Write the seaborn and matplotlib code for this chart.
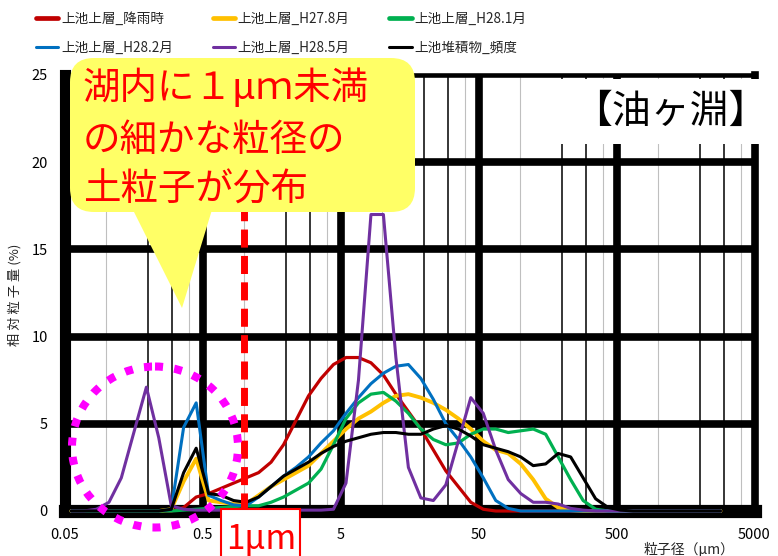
import matplotlib
matplotlib.use("Agg")
import matplotlib.pyplot as plt
import matplotlib.transforms as mtransforms
from matplotlib.patches import FancyBboxPatch, Polygon, Ellipse, Rectangle
import pandas as pd
import seaborn as sns

# Laser-diffraction size classes (µm)
diameter = [0.056, 0.069, 0.085, 0.105, 0.129, 0.159, 0.196, 0.241, 0.297, 0.365,
            0.450, 0.554, 0.682, 0.840, 1.035, 1.275, 1.570, 1.933, 2.381, 2.932,
            3.612, 4.448, 5.479, 6.747, 8.310, 10.23, 12.60, 15.52, 19.11, 23.54,
            28.99, 35.70, 43.97, 54.15, 66.69, 82.13, 101.2, 124.6, 153.4, 189.0,
            232.7, 286.6, 353.0, 434.7, 535.3, 659.2, 811.9, 1000, 1232, 1517,
            1868, 2301, 2834]

# Relative amount (%) per class
rain = [0, 0, 0, 0, 0, 0, 0, 0,
        0.0, 0.2, 0.8, 1.0, 1.3, 1.6, 1.9, 2.2, 2.8, 3.8, 5.2, 6.6, 7.6, 8.4,
        8.8, 8.8, 8.5, 7.8, 6.7, 5.7, 4.7, 3.5, 2.3, 1.4, 0.5, 0.1, 0, 0,
        0, 0, 0, 0, 0, 0, 0, 0, 0, 0, 0, 0, 0, 0, 0, 0, 0]
h27_aug = [0, 0, 0, 0, 0, 0, 0, 0,
           0.1, 1.7, 3.0, 0.6, 0.5, 0.4, 0.4, 0.9, 1.4, 1.8, 2.2, 2.6, 3.3, 4.0,
           4.7, 5.3, 5.7, 6.2, 6.6, 6.7, 6.5, 6.2, 5.8, 5.3, 4.7, 4.0, 3.5, 3.3,
           2.7, 1.8, 0.7, 0.2, 0.05, 0, 0, 0, 0, 0, 0, 0, 0, 0, 0, 0, 0]
h28_jan = [0, 0, 0, 0, 0, 0, 0, 0,
           0.0, 0.05, 0.1, 0.15, 0.2, 0.25, 0.3, 0.3, 0.5, 0.8, 1.2, 1.6, 2.4, 3.8,
           5.3, 6.2, 6.7, 6.8, 6.3, 5.6, 4.7, 4.1, 3.8, 3.9, 4.4, 4.7, 4.7, 4.5,
           4.6, 4.7, 4.4, 3.1, 1.8, 0.6, 0.1, 0, 0, 0, 0, 0, 0, 0, 0, 0, 0]
h28_feb = [0, 0, 0, 0, 0, 0, 0, 0,
           0.1, 4.8, 6.2, 0.9, 0.6, 0.35, 0.3, 0.8, 1.4, 2.0, 2.5, 3.1, 3.9, 4.6,
           5.6, 6.5, 7.3, 7.9, 8.3, 8.4, 7.6, 6.4, 5.0, 4.1, 3.1, 1.9, 0.6, 0.15,
           0, 0, 0, 0, 0, 0, 0, 0, 0, 0, 0, 0, 0, 0, 0, 0, 0]
h28_may = [0, 0, 0.1, 0.5, 1.9, 4.5, 7.1, 4.2,
           0.3, 0.1, 0.05, 0.05, 0.05, 0.05, 0.05, 0.05, 0.05, 0.05, 0.05, 0.05, 0.05, 0.1,
           1.6, 7.5, 17.0, 17.0, 8.8, 2.5, 0.75, 0.6, 1.5, 4.0, 6.5, 5.6, 3.5, 1.8,
           1.0, 0.5, 0.5, 0.4, 0.15, 0.05, 0, 0, 0, 0, 0, 0, 0, 0, 0, 0, 0]
sediment = [0, 0, 0, 0, 0, 0, 0, 0,
            0.1, 2.2, 3.6, 1.0, 0.9, 0.6, 0.5, 0.8, 1.4, 2.0, 2.4, 2.8, 3.3, 3.7,
            4.0, 4.2, 4.4, 4.5, 4.5, 4.4, 4.4, 4.7, 4.9, 4.7, 4.3, 3.8, 3.6, 3.4,
            3.1, 2.6, 2.7, 3.3, 3.1, 1.9, 0.7, 0.2, 0.05, 0, 0, 0, 0, 0, 0, 0, 0]

series_names = ["上池上層_降雨時", "上池上層_H27.8月", "上池上層_H28.1月",
                "上池上層_H28.2月", "上池上層_H28.5月", "上池堆積物_頻度"]
series_values = [rain, h27_aug, h28_jan, h28_feb, h28_may, sediment]
series_colors = ["#C00000", "#FFC000", "#00B050", "#0070C0", "#7030A0", "#000000"]
series_widths = [2.3, 2.8, 2.3, 2.2, 2.2, 2.2]
legend_widths = [3.4, 3.4, 3.4, 2.2, 2.2, 2.2]

x_ticks = [0.05, 0.5, 5, 50, 500, 5000]
x_tick_labels = ["0.05", "0.5", "5", "50", "500", "5000"]
y_ticks = [0, 5, 10, 15, 20, 25]

df = pd.concat(
    [pd.DataFrame({"粒子径": diameter, "相対粒子量": vals, "系列": name})
     for name, vals in zip(series_names, series_values)],
    ignore_index=True)

sns.set_theme(style="white")
plt.rcParams["font.family"] = ["Noto Sans CJK JP", "DejaVu Sans"]

W, H = 778, 556
fig = plt.figure(figsize=(W / 100, H / 100), dpi=100)
# pixel coordinates measured from the top-left corner of the canvas
pix = mtransforms.Affine2D().scale(1 / W, -1 / H).translate(0, 1) + fig.transFigure

left, right, top, bottom = 64.5, 754.5, 75, 511
ax = fig.add_axes([left / W, 1 - bottom / H, (right - left) / W, (bottom - top) / H])
ax.set_xscale("log")
ax.set_xlim(0.05, 5000)
ax.set_ylim(0, 25)

# grid: thin lines at 1-4 multiples, heavy lines at each 0.05 x 10^n
for base in [0.1, 1, 10, 100, 1000]:
    for m, col, w in [(1, "#BFBFBF", 0.8), (2, "black", 1.1), (3, "black", 1.1), (4, "#BFBFBF", 0.8)]:
        ax.axvline(base * m, color=col, lw=w, zorder=1)
for xv in x_ticks[1:-1]:
    ax.axvline(xv, color="black", lw=5.5, zorder=1.5)
for yv in y_ticks[1:-1]:
    ax.axhline(yv, color="black", lw=5.5, zorder=1.5)

for name, col, lw in zip(series_names, series_colors, series_widths):
    sns.lineplot(data=df[df["系列"] == name], x="粒子径", y="相対粒子量",
                 color=col, lw=lw, label=name, ax=ax, sort=False,
                 estimator=None, zorder=3, clip_on=False)

for side, w in [("left", 8), ("bottom", 9.5), ("right", 5.5), ("top", 3.3)]:
    ax.spines[side].set_visible(True)
    ax.spines[side].set_color("black")
    ax.spines[side].set_linewidth(w)

ax.set_xticks(x_ticks)
ax.set_xticklabels(x_tick_labels)
ax.xaxis.set_minor_locator(matplotlib.ticker.NullLocator())
ax.set_yticks(y_ticks)
ax.tick_params(axis="both", length=0, labelsize=10.5, colors="black")
ax.tick_params(axis="y", pad=12)
ax.tick_params(axis="x", pad=12)
ax.set_xlabel("")
ax.set_ylabel("")

# 1 µm boundary
ax.axvline(1, color="#FF0000", lw=5, linestyle=(0, (2.6, 1.2)), zorder=4)

# legend: row-wise order across three columns
handles, labels = ax.get_legend_handles_labels()
ax.get_legend().remove()
order = [0, 3, 1, 4, 2, 5]
leg = fig.legend([handles[i] for i in order], [labels[i] for i in order],
                 ncol=3, loc="upper left", bbox_to_anchor=(36 / W, 1 - 12 / H),
                 frameon=False, fontsize=9.8, handlelength=1.65, handletextpad=0.2,
                 columnspacing=2.9, labelspacing=1.1, borderpad=0, borderaxespad=0)
for i, h in zip(order, leg.legend_handles):
    h.set_linewidth(legend_widths[i])

fig.text(15, 295, "相 対 粒 子 量 (%)", transform=pix, rotation=90,
         ha="center", va="center", fontsize=9.5)
fig.text(689, 549, "粒子径（μm）", transform=pix, ha="center", va="center",
         fontsize=10)

# dotted ring around the sub-micron peaks
fig.patches.append(Ellipse((155, 447), 166, 161, transform=pix, fill=False,
                           edgecolor="#FF00FF", lw=5.8, linestyle=(0, (1, 1.4)),
                           zorder=5))

# callout balloon
yellow = "#FFFF66"
fig.patches.append(Polygon([(128, 200), (215, 200), (182, 308)], closed=True,
                           transform=pix, facecolor=yellow, edgecolor="none", zorder=6))
fig.patches.append(FancyBboxPatch((70, 58), 345, 154, transform=pix,
                                  boxstyle="round,pad=0,rounding_size=24",
                                  facecolor=yellow, edgecolor="none", zorder=6))
for ypos, line in zip([88, 140, 190], ["湖内に１μｍ未満", "の細かな粒径の", "土粒子が分布"]):
    fig.text(83, ypos, line, transform=pix, ha="left", va="center",
             fontsize=27, color="#FF0000", zorder=7)

# site name
fig.patches.append(Rectangle((560, 79), 202, 65, transform=pix, facecolor="white",
                             edgecolor="none", zorder=6))
fig.text(670, 112, "【油ヶ淵】", transform=pix, ha="center", va="center",
         fontsize=28, color="black", zorder=7)

# 1 µm tag below the axis
fig.patches.append(Rectangle((221, 509), 79, 60, transform=pix, facecolor="white",
                             edgecolor="#FF0000", lw=1.5, zorder=6))
fig.text(261, 540, "1μm", transform=pix, ha="center", va="center",
         fontsize=24, color="#FF0000", zorder=7)

fig.savefig("out.png", dpi=100)
